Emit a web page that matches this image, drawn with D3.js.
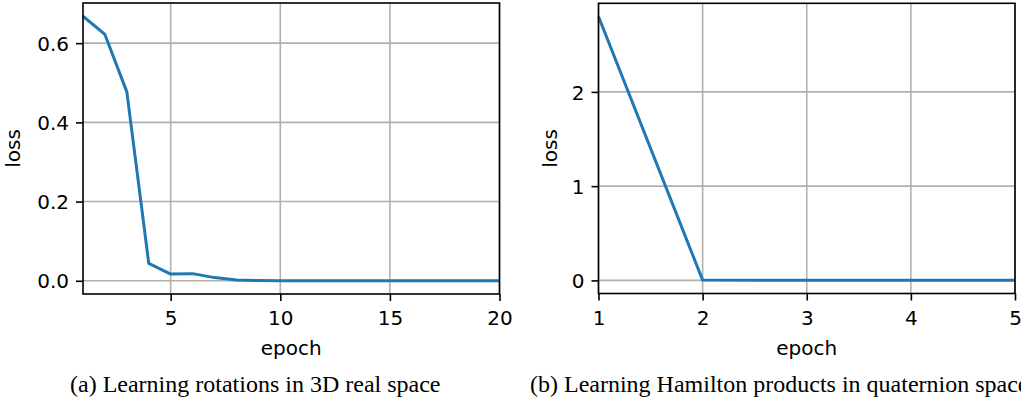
<!DOCTYPE html>
<html>
<head>
<meta charset="utf-8">
<script src="https://cdn.jsdelivr.net/npm/d3@7"></script>
<style>
  body { margin: 0; background: #fff; }
  .tick text { font-family: "DejaVu Sans", sans-serif; font-size: 20px; fill: #000; }
  .label { font-family: "DejaVu Sans", sans-serif; font-size: 20px; fill: #000; }
  .caption { font-family: "Liberation Serif", "Times New Roman", serif; font-size: 24px; fill: #000; }
</style>
</head>
<body>
<div class="canvas"></div>
<script>
// panel (a): rotations in 3D real space
const epochsA = d3.range(1, 21);
const lossA = [0.668, 0.622, 0.477, 0.044, 0.017, 0.018, 0.008, 0.002, 0.0005, 0.0002,
  0.0001, 0, 0, 0, 0, 0, 0, 0, 0, 0];
const xTicksA = [5, 10, 15, 20];
const yTicksA = [0.0, 0.2, 0.4, 0.6];

// panel (b): Hamilton products in quaternion space
const epochsB = [1, 2, 3, 4, 5];
const lossB = [2.80, 0.003, 0.001, 0.001, 0.001];
const xTicksB = [1, 2, 3, 4, 5];
const yTicksB = [0, 1, 2];

const captions = [
  "(a) Learning rotations in 3D real space",
  "(b) Learning Hamilton products in quaternion space",
];

const width = 1021;
const height = 399;

const svg = d3
  .select(".canvas")
  .append("svg")
  .attr("width", width)
  .attr("height", height);

// matplotlib-ish margin: 5% padding on the y data range
function paddedDomain(values) {
  const lo = d3.min(values);
  const hi = d3.max(values);
  const pad = (hi - lo) * 0.05;
  return [lo - pad, hi + pad];
}

function drawPanel(p) {
  const graphWidth = p.right - p.left;
  const graphHeight = p.bottom - p.top;

  const graph = svg
    .append("g")
    .attr("transform", `translate(${p.left}, ${p.top})`);

  const x = d3.scaleLinear().domain(d3.extent(p.epochs)).range([0, graphWidth]);
  const y = d3.scaleLinear().domain(paddedDomain(p.loss)).range([graphHeight, 0]);

  // grid
  graph
    .append("g")
    .selectAll("line.vgrid")
    .data(p.xTicks)
    .join("line")
    .attr("x1", (d) => x(d))
    .attr("x2", (d) => x(d))
    .attr("y1", 0)
    .attr("y2", graphHeight)
    .attr("stroke", "#b0b0b0")
    .attr("stroke-width", 1.6);

  graph
    .append("g")
    .selectAll("line.hgrid")
    .data(p.yTicks)
    .join("line")
    .attr("x1", 0)
    .attr("x2", graphWidth)
    .attr("y1", (d) => y(d))
    .attr("y2", (d) => y(d))
    .attr("stroke", "#b0b0b0")
    .attr("stroke-width", 1.6);

  // loss curve
  const line = d3
    .line()
    .x((d, i) => x(p.epochs[i]))
    .y((d) => y(d));

  graph
    .append("path")
    .datum(p.loss)
    .attr("fill", "none")
    .attr("stroke", "#1f77b4")
    .attr("stroke-width", 3)
    .attr("stroke-linejoin", "round")
    .attr("d", line);

  // frame
  graph
    .append("rect")
    .attr("width", graphWidth)
    .attr("height", graphHeight)
    .attr("fill", "none")
    .attr("stroke", "#000")
    .attr("stroke-width", 1.6);

  // axes
  const xAxisGroup = graph
    .append("g")
    .attr("transform", `translate(0, ${graphHeight})`)
    .call(
      d3.axisBottom(x).tickValues(p.xTicks).tickSize(7).tickPadding(7).tickFormat(d3.format("d"))
    );
  xAxisGroup.select(".domain").remove();
  xAxisGroup.selectAll(".tick line").attr("stroke", "#000").attr("stroke-width", 1.6);
  xAxisGroup.selectAll(".tick text").attr("dy", "0.86em");

  const yAxisGroup = graph
    .append("g")
    .call(
      d3.axisLeft(y).tickValues(p.yTicks).tickSize(7).tickPadding(7).tickFormat(p.yFormat)
    );
  yAxisGroup.select(".domain").remove();
  yAxisGroup.selectAll(".tick line").attr("stroke", "#000").attr("stroke-width", 1.6);
  yAxisGroup.selectAll(".tick text").attr("dy", "0.36em");

  // axis labels
  graph
    .append("text")
    .attr("class", "label")
    .attr("text-anchor", "middle")
    .attr("x", graphWidth / 2)
    .attr("y", 355 - p.top)
    .text("epoch");

  graph
    .append("text")
    .attr("class", "label")
    .attr("text-anchor", "middle")
    .attr("transform", `translate(${p.ylabelX - p.left}, ${graphHeight / 2}) rotate(-90)`)
    .text("loss");

  svg
    .append("text")
    .attr("class", "caption")
    .attr("x", p.captionX)
    .attr("y", 392)
    .text(p.caption);
}

drawPanel({
  epochs: epochsA,
  loss: lossA,
  xTicks: xTicksA,
  yTicks: yTicksA,
  yFormat: d3.format(".1f"),
  left: 83,
  right: 499.5,
  top: 3,
  bottom: 294,
  ylabelX: 20,
  captionX: 70,
  caption: captions[0],
});

drawPanel({
  epochs: epochsB,
  loss: lossB,
  xTicks: xTicksB,
  yTicks: yTicksB,
  yFormat: d3.format("d"),
  left: 598.5,
  right: 1015,
  top: 3.3,
  bottom: 293.5,
  ylabelX: 557,
  captionX: 530,
  caption: captions[1],
});
</script>
</body>
</html>
